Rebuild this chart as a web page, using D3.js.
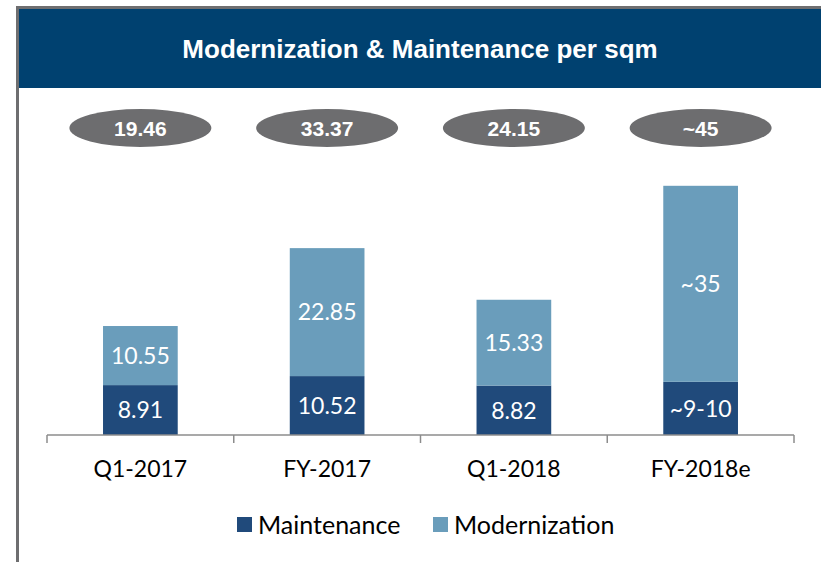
<!DOCTYPE html>
<html>
<head>
<meta charset="utf-8">
<script src="https://cdn.jsdelivr.net/npm/d3@7"></script>
<style>
  body { margin: 0; background: #fff; }
  svg { display: block; }
</style>
</head>
<body>
<div id="chart"></div>
<script>
'use strict';

var categories = ["Q1-2017", "FY-2017", "Q1-2018", "FY-2018e"];
var maintenance = [8.91, 10.52, 8.82, 9.5];
var modernization = [10.55, 22.85, 15.33, 35];
var maintenanceLabels = ["8.91", "10.52", "8.82", "~9-10"];
var modernizationLabels = ["10.55", "22.85", "15.33", "~35"];
var totalLabels = ["19.46", "33.37", "24.15", "~45"];
var seriesNames = ["Maintenance", "Modernization"];

var width = 821, height = 562;
var colors = {Maintenance: "#204a7b", Modernization: "#6a9dbb"};
var bodyFont = "Lato, 'Open Sans', sans-serif";
var headFont = "'Liberation Sans', Arial, sans-serif";

var svg = d3.select("#chart").append("svg")
    .attr("width", width)
    .attr("height", height);

// frame + header
svg.append("rect")
    .attr("x", 17.5).attr("y", 7.5)
    .attr("width", width).attr("height", height)
    .attr("fill", "#fff")
    .attr("stroke", "#6e6e70")
    .attr("stroke-width", 3);

svg.append("rect")
    .attr("x", 19).attr("y", 9)
    .attr("width", width - 19).attr("height", 79)
    .attr("fill", "#004170");

svg.append("text")
    .attr("x", 420).attr("y", 58)
    .attr("text-anchor", "middle")
    .attr("fill", "#fff")
    .style("font-family", headFont)
    .style("font-weight", "bold")
    .style("font-size", "26px")
    .text("Modernization & Maintenance per sqm");

var x = d3.scaleBand()
    .domain(categories)
    .range([47, 794])
    .paddingInner(0.6)
    .paddingOuter(0.3);

var y = d3.scaleLinear()
    .domain([0, 45])
    .range([435, 183]);

var data = categories.map(function(c, i) {
    return {cat: c, Maintenance: maintenance[i], Modernization: modernization[i]};
});
var stacked = d3.stack().keys(seriesNames)(data);
var labelSets = {Maintenance: maintenanceLabels, Modernization: modernizationLabels};

var layers = svg.append("g").selectAll("g")
    .data(stacked)
    .enter().append("g")
    .attr("fill", function(d) { return colors[d.key]; });

layers.selectAll("rect")
    .data(function(d) { return d; })
    .enter().append("rect")
    .attr("x", function(d) { return x(d.data.cat); })
    .attr("y", function(d) { return y(d[1]); })
    .attr("width", x.bandwidth())
    .attr("height", function(d) { return y(d[0]) - y(d[1]); });

layers.selectAll("text")
    .data(function(d) { return d.map(function(p, i) { return {p: p, label: labelSets[d.key][i]}; }); })
    .enter().append("text")
    .attr("x", function(d) { return x(d.p.data.cat) + x.bandwidth() / 2; })
    .attr("y", function(d) { return (y(d.p[0]) + y(d.p[1])) / 2; })
    .attr("dy", "0.36em")
    .attr("text-anchor", "middle")
    .attr("fill", "#fff")
    .style("font-family", bodyFont)
    .style("font-size", "23px")
    .text(function(d) { return d.label; });

// axis
var axis = svg.append("g")
    .attr("transform", "translate(0," + y(0) + ")");
axis.append("line")
    .attr("x1", 47).attr("x2", 794)
    .attr("stroke", "#8c8c8c").attr("stroke-width", 1.5);
var edges = x.domain().map(function(c) { return x(c) - x.step() * x.paddingInner() / 2; });
edges.push(794);
axis.selectAll(".tick")
    .data(edges)
    .enter().append("line")
    .attr("x1", function(d) { return d; }).attr("x2", function(d) { return d; })
    .attr("y1", 0).attr("y2", 8)
    .attr("stroke", "#8c8c8c").attr("stroke-width", 1.5);
axis.selectAll(".cat")
    .data(categories)
    .enter().append("text")
    .attr("x", function(d) { return x(d) + x.bandwidth() / 2; })
    .attr("y", 42)
    .attr("text-anchor", "middle")
    .attr("fill", "#000")
    .style("font-family", bodyFont)
    .style("font-size", "23px")
    .text(function(d) { return d; });

// totals in ellipses
var totals = svg.append("g").selectAll("g")
    .data(categories)
    .enter().append("g")
    .attr("transform", function(d) { return "translate(" + (x(d) + x.bandwidth() / 2) + ",128)"; });
totals.append("ellipse")
    .attr("rx", 71).attr("ry", 19)
    .attr("fill", "#6d6d6f");
totals.append("text")
    .attr("dy", "0.36em")
    .attr("text-anchor", "middle")
    .attr("fill", "#fff")
    .style("font-family", headFont)
    .style("font-weight", "bold")
    .style("font-size", "21px")
    .text(function(d, i) { return totalLabels[i]; });

// legend
var legendX = [237, 433];
var legend = svg.append("g").selectAll("g")
    .data(seriesNames)
    .enter().append("g")
    .attr("transform", function(d, i) { return "translate(" + legendX[i] + ",525)"; });
legend.append("rect")
    .attr("y", -8).attr("width", 15).attr("height", 15)
    .attr("fill", function(d) { return colors[d]; });
legend.append("text")
    .attr("x", 21)
    .attr("dy", "0.36em")
    .attr("fill", "#000")
    .style("font-family", bodyFont)
    .style("font-size", "25px")
    .text(function(d) { return d; });
</script>
</body>
</html>
